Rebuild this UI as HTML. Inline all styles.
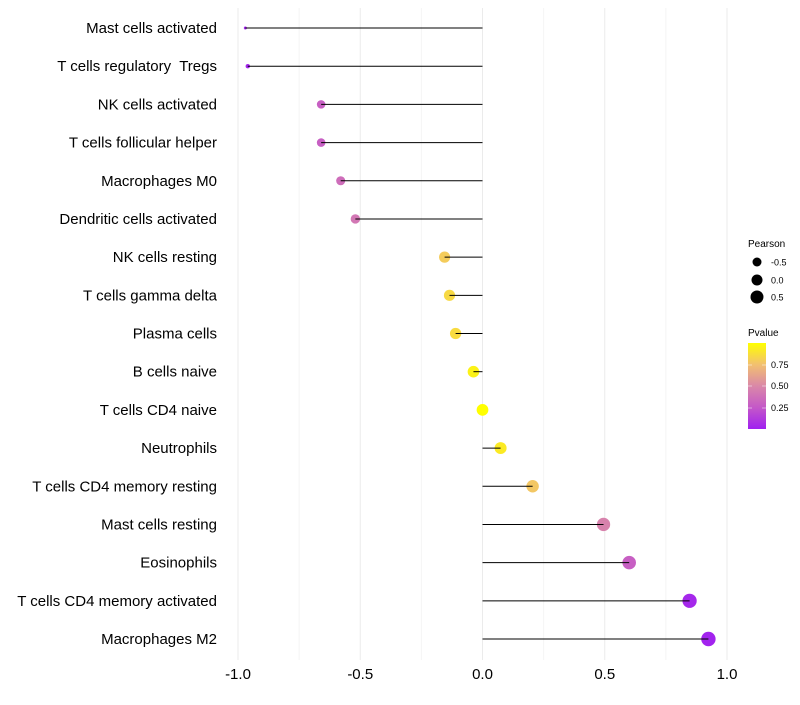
<!DOCTYPE html>
<html><head><meta charset="utf-8"><style>
body{margin:0;background:#fff;font-family:"Liberation Sans",sans-serif;}
text{white-space:pre;}
</style></head><body>
<svg id="chart" width="800" height="700" xmlns="http://www.w3.org/2000/svg">
<g id="grid"></g>
<g id="marks"></g>
<g id="ylabels"></g>
<g id="xlabels"></g>
<g font-size="9" fill="#000">
<text x="748" y="247" font-size="10">Pearson</text>
<circle cx="757" cy="262" r="4.5"/>
<text x="771" y="265.5">-0.5</text>
<circle cx="757" cy="280" r="5.5"/>
<text x="771" y="283.5">0.0</text>
<circle cx="757" cy="297" r="6.5"/>
<text x="771" y="300.5">0.5</text>
</g>
<g font-size="9">
<defs><linearGradient id="pg" x1="0" y1="1" x2="0" y2="0">
<stop offset="0" stop-color="#A020F0"/><stop offset="0.25" stop-color="#C458C8"/><stop offset="0.5" stop-color="#DA88A8"/><stop offset="0.75" stop-color="#F2C070"/><stop offset="1" stop-color="#FFFF00"/></linearGradient></defs>
<text x="748" y="336" font-size="10">Pvalue</text>
<rect x="748" y="343" width="18" height="86" fill="url(#pg)"/>
<g stroke="#fff" stroke-width="0.8" opacity="0.6"><line x1="748" x2="752" y1="365" y2="365"/><line x1="762" x2="766" y1="365" y2="365"/><line x1="748" x2="752" y1="386" y2="386"/><line x1="762" x2="766" y1="386" y2="386"/><line x1="748" x2="752" y1="408" y2="408"/><line x1="762" x2="766" y1="408" y2="408"/></g>
<text x="771" y="368">0.75</text>
<text x="771" y="389">0.50</text>
<text x="771" y="411">0.25</text>
</g>
</svg>
<script>
const categories=["Mast cells activated","T cells regulatory  Tregs","NK cells activated","T cells follicular helper","Macrophages M0","Dendritic cells activated","NK cells resting","T cells gamma delta","Plasma cells","B cells naive","T cells CD4 naive","Neutrophils","T cells CD4 memory resting","Mast cells resting","Eosinophils","T cells CD4 memory activated","Macrophages M2"];
const pearson=[-0.97,-0.96,-0.66,-0.66,-0.58,-0.52,-0.155,-0.135,-0.11,-0.037,0.0,0.074,0.205,0.495,0.60,0.847,0.924];
const pvalues=[0.03,0.04,0.3,0.3,0.37,0.42,0.8,0.85,0.86,0.95,1.0,0.92,0.78,0.48,0.3,0.05,0.03];
const xTicks=[-1,-0.5,0,0.5,1];
const xTickLabels=["-1.0","-0.5","0.0","0.5","1.0"];
const xMinor=[-0.75,-0.25,0.25,0.75];

const NS="http://www.w3.org/2000/svg";
function xs(v){return 482.5+v*244.5;}
function ys(i){return 28+i*(639-28)/(categories.length-1);}
function rs(p){const t=Math.max(0,(p+0.97)/1.89);return 1.5+5.7*Math.pow(t,0.4);}
function lerp(a,b,t){return a+(b-a)*t;}
const stops=[[0,[160,32,240]],[0.25,[196,88,200]],[0.5,[218,136,168]],[0.75,[242,192,112]],[1,[255,255,0]]];
function cs(p){const t=Math.min(1,Math.max(0,(p-0.017)/(1-0.017)));
for(let k=1;k<stops.length;k++){if(t<=stops[k][0]){const a=stops[k-1],b=stops[k];const u=(t-a[0])/(b[0]-a[0]);
return "rgb("+a[1].map((c,j)=>Math.round(lerp(c,b[1][j],u))).join(",")+")";}}return "rgb(255,255,0)";}
function mk(tag,attrs,parent){const e=document.createElementNS(NS,tag);for(const k in attrs)e.setAttribute(k,attrs[k]);parent.appendChild(e);return e;}

const grid=document.getElementById('grid');
xTicks.forEach(v=>{const l=mk('line',{x1:xs(v),x2:xs(v),y1:8,y2:660,stroke:'#ebebeb','stroke-width':1},grid);

});
xMinor.forEach(v=>{const l=mk('line',{x1:xs(v),x2:xs(v),y1:8,y2:660,stroke:'#f4f4f4','stroke-width':1},grid);

});

const marks=document.getElementById('marks');
const yl=document.getElementById('ylabels');
categories.forEach((c,i)=>{
const y=ys(i);
const pt=mk('circle',{cx:xs(pearson[i]),cy:y,r:rs(pearson[i]),fill:cs(pvalues[i])},marks);


const ln=mk('line',{x1:xs(0),x2:xs(pearson[i]),y1:y,y2:y,stroke:'#000','stroke-width':1},marks);


const t=mk('text',{x:217,y:y+5,'text-anchor':'end','font-size':15,fill:'#000'},yl);
t.textContent=c;


});
const xl=document.getElementById('xlabels');
xTicks.forEach((v,i)=>{const t=mk('text',{x:xs(v),y:679,'text-anchor':'middle','font-size':15,fill:'#000'},xl);
t.textContent=xTickLabels[i];

});
</script>
</body></html>
